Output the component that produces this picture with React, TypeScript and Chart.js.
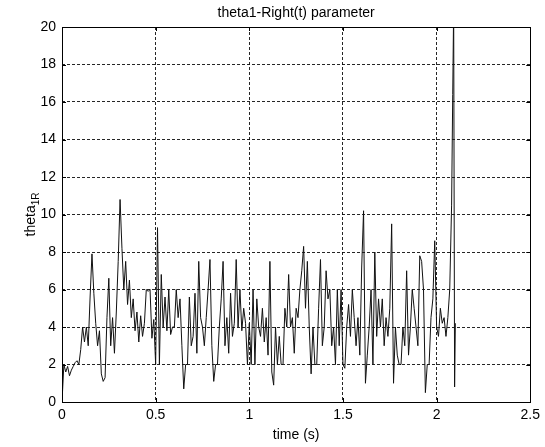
import React, { useEffect, useRef } from "react";
import { Chart, registerables } from "chart.js";

Chart.register(...registerables);

// sampling interval of the recorded signal (s)
const sampleStep = 0.01;

// theta_1R values sampled every 0.01 s from t = 0 to t = 2.08 s
const theta1R = [
  0, 2.0, 1.6, 1.9, 1.4, 1.7, 1.9, 2.1, 2.2, 2.0,
  2.8, 4.0, 3.2, 4.0, 3.0, 5.6, 7.9, 5.8, 4.2, 3.0,
  3.8, 1.5, 1.1, 1.3, 4.5, 6.6, 3.0, 4.5, 2.6, 4.8,
  7.5, 10.8, 8.2, 6.0, 7.5, 5.2, 6.5, 4.5, 5.5, 3.8,
  4.8, 3.2, 4.6, 3.5, 4.2, 6.0, 5.9, 6.0, 3.4, 4.4,
  2.0, 9.3, 2.0, 6.8, 4.0, 5.6, 3.8, 6.0, 3.6, 4.0,
  4.0, 6.0, 4.5, 5.5, 3.0, 0.7, 2.0, 2.0, 5.6, 3.0,
  3.5, 5.8, 2.6, 7.5, 4.5, 4.0, 3.0, 4.5, 6.0, 7.6,
  3.0, 1.1, 2.0, 2.0, 4.0, 5.5, 7.5, 3.0, 4.5, 2.6,
  5.8, 3.5, 4.2, 7.6, 4.0, 6.0, 3.8, 5.0, 4.2, 2.0,
  4.2, 2.0, 6.0, 2.0, 5.5, 4.0, 3.5, 5.0, 3.2, 4.5,
  2.5, 7.5, 1.6, 0.9, 4.0, 2.0, 3.5, 2.0, 2.0, 5.0,
  4.0, 6.8, 4.0, 4.5, 2.6, 5.0, 4.5, 6.0, 7.0, 8.3,
  5.0, 7.5, 4.0, 1.5, 4.0, 2.0, 2.0, 5.0, 7.6, 3.0,
  4.0, 7.0, 5.5, 6.0, 3.0, 4.0, 2.0, 6.0, 3.0, 6.0,
  2.0, 1.8, 4.0, 5.2, 3.5, 6.0, 4.5, 3.0, 4.5, 2.5,
  7.2, 10.2, 1.0, 2.5, 4.0, 6.0, 2.0, 8.0, 3.5, 5.5,
  4.0, 5.5, 3.0, 4.5, 3.5, 5.0, 9.5, 1.0, 4.0, 2.5,
  2.0, 2.0, 4.0, 3.0, 7.0, 2.5, 4.0, 6.0, 5.0, 4.0,
  3.0, 7.8, 7.5, 6.0, 0.5, 2.0, 2.0, 4.5, 5.5, 8.6,
  4.0, 3.5, 5.0, 4.2, 4.5, 3.5, 4.5, 6.0, 10.5,
];

// final spike at the end of the record
const tailTimes = [2.086, 2.091, 2.096, 2.1];
const tailValues = [16.4, 21.0, 0.8, 4.2];

const xTicks = [0, 0.5, 1, 1.5, 2, 2.5];
const yTicks = [0, 2, 4, 6, 8, 10, 12, 14, 16, 18, 20];

const titleText = "theta1-Right(t) parameter";
const xLabel = "time (s)";
const yLabelMain = "theta";
const yLabelSub = "1R";

const FONT = "'Liberation Sans', Arial, sans-serif";

export default function App() {
  const ref = useRef<HTMLCanvasElement>(null);

  useEffect(() => {
    document.body.style.margin = "0";
    const points = theta1R
      .map((v, i) => ({ x: +(i * sampleStep).toFixed(3), y: v }))
      .concat(tailTimes.map((t, i) => ({ x: t, y: tailValues[i] })));

    const frame = {
      id: "frame",
      afterDraw(chart: any) {
        const { ctx, chartArea: a, scales } = chart;
        ctx.save();
        ctx.strokeStyle = "#000";
        ctx.lineWidth = 1;
        ctx.strokeRect(Math.round(a.left) + 0.5, Math.round(a.top) + 0.5, Math.round(a.right - a.left), Math.round(a.bottom - a.top));
        // inner tick marks
        ctx.beginPath();
        const tl = 4;
        xTicks.forEach((v) => {
          const px = Math.round(scales.x.getPixelForValue(v)) + 0.5;
          ctx.moveTo(px, a.bottom);
          ctx.lineTo(px, a.bottom - tl);
          ctx.moveTo(px, a.top);
          ctx.lineTo(px, a.top + tl);
        });
        yTicks.forEach((v) => {
          const py = Math.round(scales.y.getPixelForValue(v)) + 0.5;
          ctx.moveTo(a.left, py);
          ctx.lineTo(a.left + tl, py);
          ctx.moveTo(a.right, py);
          ctx.lineTo(a.right - tl, py);
        });
        ctx.stroke();

        ctx.fillStyle = "#000";
        const cx = (a.left + a.right) / 2;
        ctx.font = `14px ${FONT}`;
        ctx.textAlign = "center";
        ctx.textBaseline = "middle";
        ctx.fillText(titleText, cx, 13);
        ctx.fillText(xLabel, cx, 435);

        // y label with subscript
        ctx.save();
        const cy = (a.top + a.bottom) / 2;
        ctx.translate(31, cy);
        ctx.rotate(-Math.PI / 2);
        ctx.font = `14px ${FONT}`;
        const w1 = ctx.measureText(yLabelMain).width;
        ctx.font = `10px ${FONT}`;
        const w2 = ctx.measureText(yLabelSub).width;
        const start = -(w1 + w2) / 2;
        ctx.textAlign = "left";
        ctx.font = `14px ${FONT}`;
        ctx.fillText(yLabelMain, start, 0);
        ctx.font = `10px ${FONT}`;
        ctx.fillText(yLabelSub, start + w1, 5);
        ctx.restore();
        ctx.restore();
      },
    };

    const chart = new Chart(ref.current as HTMLCanvasElement, {
      type: "line",
      data: {
        datasets: [
          {
            data: points,
            borderColor: "#111",
            borderWidth: 1,
            pointRadius: 0,
            tension: 0,
            fill: false,
          },
        ],
      },
      options: {
        animation: false,
        responsive: false,
        maintainAspectRatio: false,
        layout: { padding: { top: 27, right: 10, left: 0, bottom: 0 } },
        plugins: {
          legend: { display: false },
          tooltip: { enabled: false },
          title: { display: false },
        },
        scales: {
          x: {
            type: "linear",
            min: 0,
            max: 2.5,
            afterBuildTicks: (s: any) => {
              s.ticks = xTicks.map((v) => ({ value: v }));
            },
            afterFit: (s: any) => {
              s.height = 45;
            },
            grid: { color: "rgba(0,0,0,0.85)", lineWidth: 1, drawTicks: false },
            border: { display: false, dash: [3, 2] },
            ticks: {
              color: "#000",
              padding: 5,
              maxRotation: 0,
              font: { family: FONT, size: 14 },
              callback: (v: any) => String(v),
            },
          },
          y: {
            type: "linear",
            min: 0,
            max: 20,
            afterBuildTicks: (s: any) => {
              s.ticks = yTicks.map((v) => ({ value: v }));
            },
            afterFit: (s: any) => {
              s.width = 62;
            },
            grid: { color: "rgba(0,0,0,0.85)", lineWidth: 1, drawTicks: false },
            border: { display: false, dash: [3, 2] },
            ticks: {
              color: "#000",
              padding: 6,
              font: { family: FONT, size: 14 },
              callback: (v: any) => String(v),
            },
          },
        },
      },
      plugins: [frame],
    });
    return () => chart.destroy();
  }, []);

  return <canvas ref={ref} width={545} height={447} style={{ display: "block" }} />;
}
